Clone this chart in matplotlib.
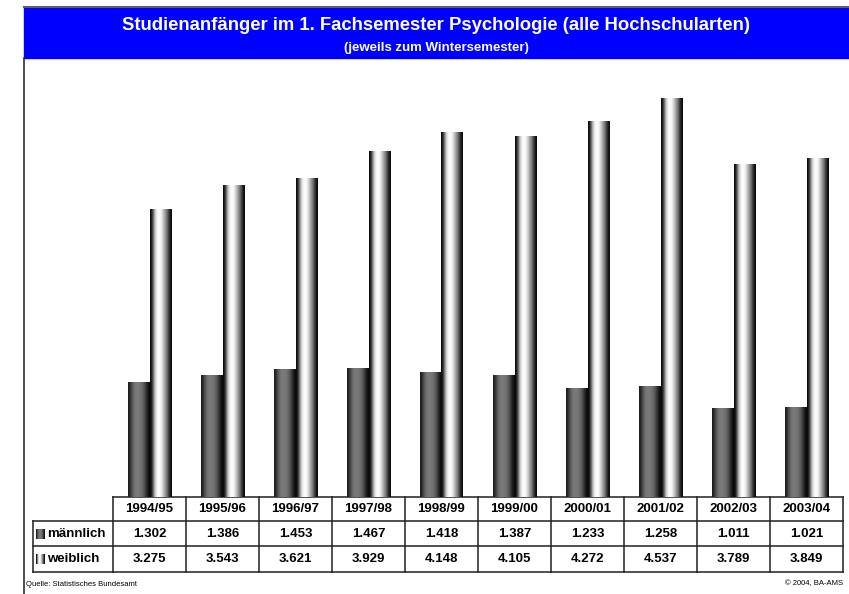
import numpy as np
import matplotlib
matplotlib.use("Agg")
import matplotlib.pyplot as plt

plt.rcParams['font.family'] = ['Liberation Sans', 'DejaVu Sans']

# --- data ---
semester = ["1994/95", "1995/96", "1996/97", "1997/98", "1998/99",
            "1999/00", "2000/01", "2001/02", "2002/03", "2003/04"]
maennlich = [1302, 1386, 1453, 1467, 1418, 1387, 1233, 1258, 1011, 1021]
weiblich = [3275, 3543, 3621, 3929, 4148, 4105, 4272, 4537, 3789, 3849]
serien = ["männlich", "weiblich"]

title = "Studienanfänger im 1. Fachsemester Psychologie (alle Hochschularten)"
subtitle = "(jeweils zum Wintersemester)"
quelle = "Quelle: Statistisches Bundesamt"
copyright_txt = "© 2004, BA-AMS"

# shading profiles (left -> right) to fake cylinder bars
prof_m = np.array([0.12, 0.25, 0.38, 0.46, 0.48, 0.47, 0.44, 0.38, 0.28, 0.15, 0.05])
prof_w = np.array([0.05, 0.35, 0.75, 0.95, 1.0, 0.95, 0.8, 0.62, 0.45, 0.22, 0.05])

W, H = 849, 594
fig = plt.figure(figsize=(W / 100, H / 100), dpi=100)

# pixel-space overlay for frame, title and table
deco = fig.add_axes([0, 0, 1, 1])
deco.set_xlim(0, W)
deco.set_ylim(H, 0)
deco.axis("off")

deco.add_patch(plt.Rectangle((24, 7), W - 24, 51, color="#0000ff", zorder=1))
deco.plot([24, W], [7, 7], color="#606060", lw=1.5, zorder=2)
deco.plot([24, 24], [58, H], color="#303030", lw=1.2, zorder=2)
deco.text(436, 24, title, color="white", fontsize=13.3, fontweight="bold",
          ha="center", va="center_baseline")
deco.text(436, 46, subtitle, color="white", fontsize=9.5, fontweight="bold",
          ha="center", va="center_baseline")

# --- bars ---
x0_px, x1_px, base_px, top_px = 113, 843, 497, 80
ax = fig.add_axes([x0_px / W, 1 - base_px / H, (x1_px - x0_px) / W, (base_px - top_px) / H])
ax.axis("off")
bw = 0.29
xs = np.arange(len(semester))


def shaded_bars(xpos, vals, prof):
    img = np.tile(prof, (2, 1))
    rgb = np.dstack([img, img, img])
    for x, v in zip(xpos, vals):
        ax.imshow(rgb, extent=[x - bw / 2, x + bw / 2, 0, v], aspect="auto",
                  interpolation="bilinear", zorder=2)


shaded_bars(xs - bw / 2, maennlich, prof_m)
shaded_bars(xs + bw / 2, weiblich, prof_w)
ax.set_xlim(-0.5, len(semester) - 0.5)
ax.set_ylim(0, 4745)

# --- table ---
col_w = 73
lc = "#202020"
deco.plot([113, 843], [497, 497], color=lc, lw=1.1)
for y in (521, 546, 572):
    deco.plot([33, 843], [y, y], color=lc, lw=1.1)
for i in range(len(semester) + 1):
    deco.plot([113 + col_w * i] * 2, [497, 572], color=lc, lw=1.1)
deco.plot([33, 33], [521, 572], color=lc, lw=1.1)

for i, s in enumerate(semester):
    cx = 113 + col_w * (i + 0.5)
    deco.text(cx, 509.5, s, fontsize=9.5, fontweight="bold", ha="center", va="center")
    deco.text(cx, 534, f"{maennlich[i] / 1000:.3f}", fontsize=9.5, fontweight="bold",
              ha="center", va="center")
    deco.text(cx, 559.5, f"{weiblich[i] / 1000:.3f}", fontsize=9.5, fontweight="bold",
              ha="center", va="center")

for row_y, name, prof in ((534, serien[0], prof_m), (559.5, serien[1], prof_w)):
    img = np.tile(prof, (2, 1))
    deco.imshow(np.dstack([img, img, img]), extent=[36, 45, row_y + 5, row_y - 5],
                aspect="auto", interpolation="bilinear")
    deco.text(47, row_y, name, fontsize=9.5, fontweight="bold", ha="left", va="center")
deco.set_xlim(0, W)
deco.set_ylim(H, 0)

deco.text(26, 584, quelle, fontsize=5.5, ha="left", va="center")
deco.text(843, 584, copyright_txt, fontsize=5.5, ha="right", va="center")

fig.savefig("out.png", dpi=100)
